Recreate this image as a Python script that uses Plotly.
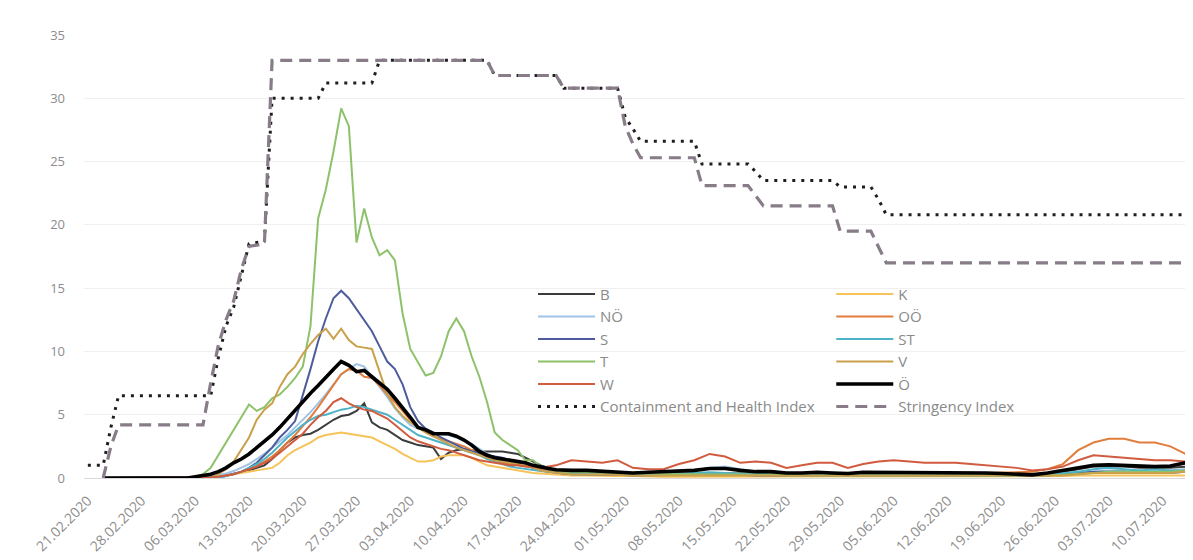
import pandas as pd
import plotly.graph_objects as go

# ---------------- dates ----------------
main_dates = pd.date_range("2020-02-23", "2020-04-23", freq="D")   # 61 daily points
tail_dates = pd.date_range("2020-04-24", "2020-07-15", freq="2D")  # 42 points, every 2nd day
tick_dates = pd.date_range("2020-02-21", "2020-07-10", freq="7D")

# ---------------- regional series (main: 23.02-23.04 daily, tail: 24.04-15.07 every 2 days) ----------------
B_main = [0, 0, 0, 0, 0, 0, 0, 0, 0, 0, 0, 0,
          0, 0, 0.05, 0.1, 0.2, 0.3, 0.45, 0.6, 0.8, 1.0,
          1.5, 2.2, 2.8, 3.2, 3.4, 3.5, 3.8, 4.2, 4.6, 4.9,
          5.0, 5.3, 5.9, 4.4, 4.0, 3.8, 3.4, 3.0, 2.8, 2.6,
          2.5, 2.4, 1.5, 2.0, 2.2, 2.3, 2.2, 2.1, 2.1, 2.1,
          2.1, 2.0, 1.9, 1.6, 1.3, 1.0, 0.8, 0.6, 0.5]
B_tail = [0.4, 0.35, 0.3, 0.3, 0.3, 0.3, 0.35, 0.4, 0.4, 0.4,
          0.4, 0.35, 0.3, 0.3, 0.3, 0.3, 0.3, 0.3, 0.3, 0.3,
          0.3, 0.3, 0.3, 0.3, 0.3, 0.3, 0.3, 0.3, 0.3, 0.3,
          0.3, 0.4, 0.5, 0.7, 0.9, 0.9, 0.9, 0.8, 0.8, 0.8,
          0.9, 1.0]

K_main = [0, 0, 0, 0, 0, 0, 0, 0, 0, 0, 0, 0,
          0, 0, 0, 0.1, 0.2, 0.3, 0.4, 0.5, 0.6, 0.7,
          0.8, 1.2, 1.8, 2.2, 2.5, 2.8, 3.2, 3.4, 3.5, 3.6,
          3.5, 3.4, 3.3, 3.2, 2.9, 2.6, 2.3, 1.9, 1.6, 1.3,
          1.3, 1.4, 1.7, 1.8, 1.8, 1.8, 1.6, 1.3, 1.0, 0.9,
          0.8, 0.7, 0.55, 0.45, 0.4, 0.35, 0.3, 0.3, 0.25]
K_tail = [0.2, 0.2, 0.15, 0.15, 0.15, 0.1, 0.1, 0.1, 0.1, 0.1,
          0.1, 0.1, 0.1, 0.1, 0.1, 0.1, 0.1, 0.1, 0.1, 0.1,
          0.1, 0.1, 0.1, 0.1, 0.1, 0.1, 0.1, 0.1, 0.1, 0.1,
          0.1, 0.1, 0.15, 0.2, 0.2, 0.2, 0.2, 0.2, 0.2, 0.2,
          0.2, 0.2]

NO_main = [0, 0, 0, 0, 0, 0, 0, 0, 0, 0, 0, 0,
           0, 0.05, 0.1, 0.2, 0.35, 0.55, 0.8, 1.1, 1.5, 1.9,
           2.4, 2.9, 3.4, 4.0, 4.6, 5.2, 5.9, 6.6, 7.4, 8.2,
           8.6, 9.0, 8.8, 8.0, 7.2, 6.4, 5.5, 4.8, 4.2, 3.9,
           3.8, 3.6, 3.5, 3.4, 3.2, 3.0, 2.7, 2.3, 1.9, 1.6,
           1.4, 1.2, 1.1, 1.0, 0.9, 0.8, 0.7, 0.65, 0.6]
NO_tail = [0.5, 0.5, 0.45, 0.45, 0.4, 0.4, 0.45, 0.5, 0.6, 0.8,
           0.9, 0.7, 0.5, 0.45, 0.4, 0.4, 0.4, 0.35, 0.35, 0.3,
           0.3, 0.3, 0.3, 0.3, 0.3, 0.3, 0.3, 0.3, 0.3, 0.3,
           0.3, 0.3, 0.35, 0.4, 0.5, 0.6, 0.6, 0.6, 0.6, 0.6,
           0.7, 0.7]

OO_main = [0, 0, 0, 0, 0, 0, 0, 0, 0, 0, 0, 0,
           0, 0, 0.05, 0.1, 0.2, 0.3, 0.5, 0.7, 1.0, 1.3,
           1.7, 2.2, 2.8, 3.4, 4.1, 4.8, 5.6, 6.5, 7.4, 8.2,
           8.6, 8.5, 8.0, 7.9, 7.3, 6.6, 6.0, 5.3, 4.6, 4.0,
           3.6, 3.3, 3.1, 2.9, 2.7, 2.5, 2.2, 1.9, 1.6, 1.4,
           1.2, 1.1, 1.0, 0.9, 0.8, 0.7, 0.6, 0.55, 0.5]
OO_tail = [0.5, 0.45, 0.4, 0.4, 0.35, 0.35, 0.35, 0.4, 0.4, 0.4,
           0.4, 0.35, 0.3, 0.3, 0.3, 0.3, 0.3, 0.3, 0.3, 0.3,
           0.3, 0.3, 0.3, 0.3, 0.3, 0.3, 0.35, 0.4, 0.4, 0.45,
           0.5, 0.7, 1.1, 2.2, 2.8, 3.1, 3.1, 2.8, 2.8, 2.5,
           1.9, 2.1]

S_main = [0, 0, 0, 0, 0, 0, 0, 0, 0, 0, 0, 0,
          0, 0, 0, 0.05, 0.15, 0.3, 0.5, 0.8, 1.2, 1.8,
          2.4, 3.2, 3.8, 4.5, 6.5, 8.6, 10.8, 12.6, 14.2, 14.8,
          14.2, 13.3, 12.4, 11.6, 10.4, 9.2, 8.6, 7.4, 5.6, 4.5,
          3.9, 3.6, 3.2, 2.9, 2.6, 2.3, 2.1, 2.0, 1.8, 1.7,
          1.6, 1.4, 1.2, 1.0, 0.8, 0.6, 0.5, 0.4, 0.35]
S_tail = [0.3, 0.3, 0.25, 0.25, 0.2, 0.2, 0.2, 0.2, 0.25, 0.3,
          0.3, 0.25, 0.2, 0.2, 0.2, 0.2, 0.2, 0.2, 0.15, 0.15,
          0.15, 0.15, 0.15, 0.15, 0.15, 0.15, 0.15, 0.15, 0.15, 0.15,
          0.15, 0.2, 0.3, 0.4, 0.5, 0.5, 0.5, 0.4, 0.4, 0.4,
          0.5, 0.5]

ST_main = [0, 0, 0, 0, 0, 0, 0, 0, 0, 0, 0, 0,
           0, 0, 0, 0.05, 0.15, 0.3, 0.5, 0.8, 1.1, 1.5,
           2.0, 2.6, 3.2, 3.7, 4.2, 4.6, 4.9, 5.0, 5.2, 5.4,
           5.5, 5.7, 5.6, 5.4, 5.2, 5.0, 4.6, 4.2, 3.8, 3.4,
           3.2, 3.0, 2.8, 2.6, 2.4, 2.2, 2.0, 1.8, 1.5, 1.3,
           1.1, 0.9, 0.8, 0.7, 0.6, 0.55, 0.5, 0.45, 0.4]
ST_tail = [0.4, 0.35, 0.3, 0.3, 0.3, 0.3, 0.3, 0.35, 0.4, 0.45,
           0.4, 0.35, 0.3, 0.3, 0.25, 0.25, 0.25, 0.25, 0.2, 0.2,
           0.2, 0.2, 0.2, 0.2, 0.2, 0.2, 0.2, 0.2, 0.2, 0.2,
           0.2, 0.3, 0.4, 0.5, 0.7, 0.8, 0.7, 0.6, 0.7, 0.6,
           0.6, 0.7]

T_main = [0, 0, 0, 0, 0, 0, 0, 0, 0, 0, 0, 0,
          0.1, 0.3, 0.8, 1.8, 2.8, 3.8, 4.8, 5.8, 5.3, 5.6,
          6.3, 6.6, 7.2, 7.9, 8.8, 12.0, 20.5, 22.8, 25.8, 29.2,
          27.8, 18.6, 21.3, 19.0, 17.6, 18.0, 17.2, 13.0, 10.2, 9.2,
          8.1, 8.3, 9.6, 11.6, 12.6, 11.6, 9.6, 8.0, 6.0, 3.6,
          3.0, 2.6, 2.2, 1.4, 1.4, 0.9, 0.7, 0.6, 0.5]
T_tail = [0.5, 0.45, 0.4, 0.4, 0.35, 0.35, 0.3, 0.3, 0.3, 0.3,
          0.3, 0.3, 0.25, 0.25, 0.2, 0.2, 0.2, 0.2, 0.2, 0.2,
          0.2, 0.2, 0.15, 0.15, 0.15, 0.15, 0.15, 0.15, 0.15, 0.15,
          0.15, 0.2, 0.25, 0.3, 0.4, 0.5, 0.5, 0.5, 0.5, 0.5,
          0.6, 0.6]

V_main = [0, 0, 0, 0, 0, 0, 0, 0, 0, 0, 0, 0,
          0, 0, 0, 0.3, 0.7, 1.3, 2.2, 3.2, 4.6, 5.4,
          5.9, 7.2, 8.2, 8.8, 9.8, 10.6, 11.3, 11.8, 11.0, 11.8,
          10.9, 10.4, 10.3, 10.2, 8.4, 6.6, 5.6, 4.9, 4.4, 4.0,
          3.6, 3.3, 3.0, 2.7, 2.4, 2.2, 2.0, 1.8, 1.6, 1.4,
          1.3, 1.2, 1.1, 1.0, 0.8, 0.6, 0.5, 0.4, 0.35]
V_tail = [0.3, 0.3, 0.25, 0.25, 0.2, 0.2, 0.2, 0.2, 0.2, 0.2,
          0.2, 0.2, 0.2, 0.2, 0.15, 0.15, 0.15, 0.15, 0.15, 0.15,
          0.15, 0.15, 0.15, 0.15, 0.15, 0.15, 0.15, 0.15, 0.15, 0.15,
          0.15, 0.2, 0.2, 0.3, 0.4, 0.4, 0.4, 0.4, 0.4, 0.4,
          0.5, 0.5]

W_main = [0, 0, 0, 0, 0, 0, 0, 0, 0, 0, 0, 0,
          0, 0, 0.05, 0.1, 0.2, 0.3, 0.5, 0.7, 0.9, 1.2,
          1.5, 2.0, 2.5, 3.0, 3.5, 4.2, 4.8, 5.3, 6.0, 6.3,
          5.9, 5.6, 5.4, 5.3, 5.0, 4.7, 4.2, 3.7, 3.2, 2.9,
          2.7, 2.5, 2.3, 2.2, 2.0, 1.8, 1.6, 1.4, 1.3, 1.2,
          1.1, 1.0, 1.0, 0.9, 0.9, 0.8, 0.9, 1.0, 1.2]
W_tail = [1.4, 1.3, 1.2, 1.4, 0.8, 0.7, 0.7, 1.1, 1.4, 1.9,
          1.7, 1.2, 1.3, 1.2, 0.8, 1.0, 1.2, 1.2, 0.8, 1.1,
          1.3, 1.4, 1.3, 1.2, 1.2, 1.2, 1.1, 1.0, 0.9, 0.8,
          0.6, 0.7, 0.9, 1.4, 1.8, 1.7, 1.6, 1.5, 1.4, 1.4,
          1.3, 1.8]

AT_main = [0, 0, 0, 0, 0, 0, 0, 0, 0, 0, 0, 0,
           0.1, 0.2, 0.3, 0.5, 0.8, 1.2, 1.5, 1.9, 2.4, 2.9,
           3.4, 4.0, 4.7, 5.3, 6.0, 6.7, 7.3, 8.0, 8.6, 9.2,
           8.9, 8.4, 8.5, 8.0, 7.5, 7.0, 6.3, 5.6, 4.8, 4.0,
           3.8, 3.5, 3.5, 3.5, 3.3, 3.0, 2.6, 2.1, 1.8, 1.6,
           1.5, 1.4, 1.3, 1.2, 1.0, 0.85, 0.75, 0.65, 0.6]
AT_tail = [0.6, 0.6, 0.55, 0.5, 0.4, 0.45, 0.5, 0.6, 0.6, 0.75,
           0.75, 0.6, 0.5, 0.5, 0.4, 0.4, 0.45, 0.4, 0.35, 0.45,
           0.45, 0.4, 0.4, 0.4, 0.4, 0.4, 0.4, 0.4, 0.35, 0.3,
           0.25, 0.4, 0.6, 0.8, 1.0, 1.05, 1.0, 0.95, 0.9, 0.95,
           1.2, 1.2]

# ---------------- indices (values at the dates where they change) ----------------
chi_dates = ["2020-02-21", "2020-02-23", "2020-02-24", "2020-02-25", "2020-03-08", "2020-03-09",
             "2020-03-10", "2020-03-11", "2020-03-12", "2020-03-13", "2020-03-15", "2020-03-16",
             "2020-03-22", "2020-03-23", "2020-03-29", "2020-03-30", "2020-04-13", "2020-04-14",
             "2020-04-22", "2020-04-23", "2020-04-30", "2020-05-01", "2020-05-02", "2020-05-03",
             "2020-05-10", "2020-05-11", "2020-05-17", "2020-05-18", "2020-05-19", "2020-05-28",
             "2020-05-29", "2020-06-02", "2020-06-03", "2020-06-04", "2020-07-15"]
chi_vals = [1.0, 1.0, 4.0, 6.5, 6.5, 9.5,
            12.0, 13.5, 16.0, 18.5, 18.7, 30.0,
            30.0, 31.2, 31.2, 33.0, 33.0, 31.8,
            31.8, 30.8, 30.8, 28.5, 27.6, 26.6,
            26.6, 24.8, 24.8, 24.2, 23.5, 23.5,
            23.0, 23.0, 22.0, 20.8, 20.8]

si_dates = ["2020-02-23", "2020-02-24", "2020-02-25", "2020-03-07", "2020-03-08", "2020-03-09",
            "2020-03-10", "2020-03-11", "2020-03-12", "2020-03-13", "2020-03-15", "2020-03-16",
            "2020-04-13", "2020-04-14", "2020-04-22", "2020-04-23", "2020-04-30", "2020-05-01",
            "2020-05-02", "2020-05-03", "2020-05-10", "2020-05-11", "2020-05-17", "2020-05-18",
            "2020-05-19", "2020-05-28", "2020-05-29", "2020-06-02", "2020-06-03", "2020-06-04",
            "2020-07-15"]
si_vals = [0.0, 2.5, 4.2, 4.2, 7.5, 10.5,
           12.5, 14.0, 16.5, 18.3, 18.5, 33.0,
           33.0, 31.8, 31.8, 30.8, 30.8, 27.8,
           26.4, 25.3, 25.3, 23.1, 23.1, 22.3,
           21.5, 21.5, 19.5, 19.5, 18.3, 17.0,
           17.0]

regions = [
    ("B", B_main, B_tail, "#3c3c3c", 2.0, "legend"),
    ("K", K_main, K_tail, "#F6C35A", 2.0, "legend2"),
    ("NÖ", NO_main, NO_tail, "#9DC3E6", 2.0, "legend"),
    ("OÖ", OO_main, OO_tail, "#E37D3C", 2.0, "legend2"),
    ("S", S_main, S_tail, "#4E5C9C", 2.0, "legend"),
    ("ST", ST_main, ST_tail, "#4CB3C8", 2.0, "legend2"),
    ("T", T_main, T_tail, "#8DC26B", 2.0, "legend"),
    ("V", V_main, V_tail, "#C9A04C", 2.0, "legend2"),
    ("W", W_main, W_tail, "#D15B3E", 2.0, "legend"),
    ("Ö", AT_main, AT_tail, "#000000", 3.6, "legend2"),
]

fig = go.Figure()
for name, m, t, col, w, leg in regions:
    if len(m) != len(main_dates) or len(t) != len(tail_dates):
        raise ValueError(f"{name}: {len(m)} / {len(t)}")
    fig.add_trace(go.Scatter(
        x=list(main_dates) + list(tail_dates), y=m + t, name=name, mode="lines",
        line=dict(color=col, width=w), legend=leg))

fig.add_trace(go.Scatter(
    x=pd.to_datetime(chi_dates), y=chi_vals, name="Containment and Health Index", mode="lines",
    line=dict(color="#1e1e1e", width=3, dash="3px,6px"), legend="legend"))
fig.add_trace(go.Scatter(
    x=pd.to_datetime(si_dates), y=si_vals, name="Stringency Index", mode="lines",
    line=dict(color="#877C88", width=3.2, dash="12px,7px"), legend="legend2"))

grey = "#8c8c8c"
legend_common = dict(yanchor="top", xanchor="left", bgcolor="rgba(0,0,0,0)",
                     font=dict(family="Open Sans", size=15, color="#8a8a8a"),
                     itemwidth=57, tracegroupgap=0, traceorder="normal")

fig.update_layout(
    width=1193, height=560,
    margin=dict(l=76, r=0, t=27, b=90),
    paper_bgcolor="white", plot_bgcolor="white",
    font=dict(family="Open Sans", color=grey),
    showlegend=True,
    legend=dict(x=0.402, y=0.452, **legend_common),
    legend2=dict(x=0.669, y=0.452, **legend_common),
    xaxis=dict(
        type="date",
        range=["2020-02-20 12:00", "2020-07-15"],
        tickmode="array", tickvals=tick_dates,
        ticktext=[d.strftime("%d.%m.%Y") for d in tick_dates],
        tickangle=-45, tickfont=dict(size=14, color=grey),
        showgrid=False, zeroline=False, showline=True, linecolor="#d9d9d9", linewidth=1,
        ticks="", ticklabelstandoff=8,
    ),
    yaxis=dict(
        range=[0, 35], dtick=5, tick0=0,
        tickfont=dict(size=13, color=grey),
        showgrid=True, gridcolor="#efefef", gridwidth=1,
        zeroline=False, showline=False, ticks="", ticklabelstandoff=18,
    ),
)

fig.write_html("out.html")
